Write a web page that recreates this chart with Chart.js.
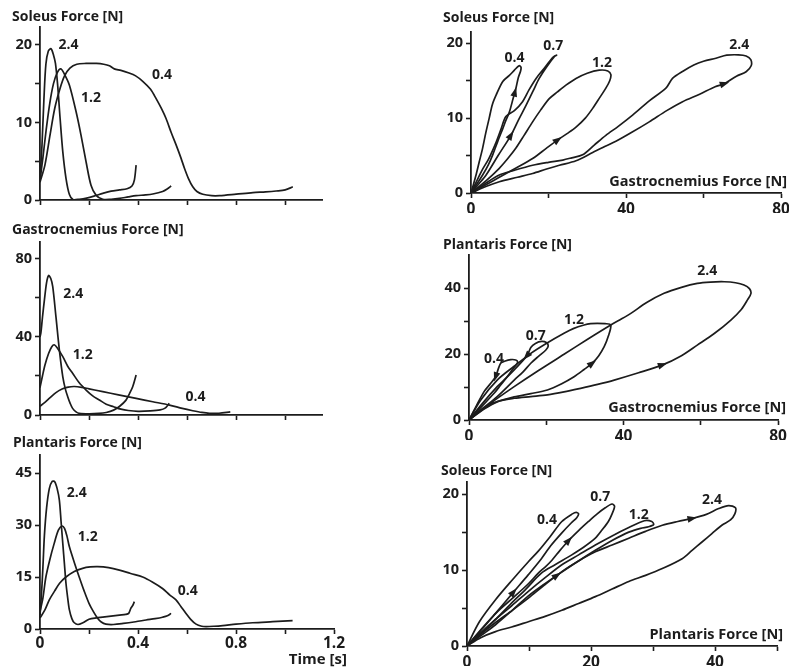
<!DOCTYPE html>
<html>
<head>
<meta charset="utf-8">
<script src="https://cdn.jsdelivr.net/npm/chart.js@4/dist/chart.umd.min.js"></script>
<style>
  html, body { margin: 0; padding: 0; background: #ffffff; }
  #wrap { position: relative; width: 789px; height: 672px; overflow: hidden; }
  #wrap canvas { position: absolute; left: 0; top: 0; }
</style>
</head>
<body>
<div id="wrap"></div>
<script>
// ---- Force–time traces [time s, force N] at three hopping frequencies ----
const soleusT24 = [[0,2.5],[0.008,7],[0.016,13],[0.024,17.5],[0.034,19.2],[0.045,19.5],[0.055,18.7],[0.063,17.6],[0.072,14.8],[0.082,10.5],[0.093,6.2],[0.106,2.8],[0.12,0.7],[0.135,0.05],[0.16,0.1],[0.19,0.25],[0.22,0.5],[0.256,0.86],[0.29,1.15],[0.324,1.3],[0.355,1.45],[0.375,1.8],[0.385,2.6],[0.392,4.5]];
const soleusT12 = [[0,2.5],[0.012,5.5],[0.025,9],[0.04,12.5],[0.055,15],[0.07,16.4],[0.085,16.9],[0.1,16.2],[0.12,14.8],[0.147,11.4],[0.167,8.4],[0.188,4.9],[0.208,1.9],[0.229,0.6],[0.256,0.1],[0.29,0.1],[0.324,0.2],[0.36,0.4],[0.392,0.56],[0.43,0.65],[0.46,0.77],[0.5,1.1],[0.52,1.45],[0.535,1.8]];
const soleusT04 = [[0,2.3],[0.02,4.5],[0.041,8.4],[0.06,11.8],[0.082,14.4],[0.1,16],[0.122,17],[0.15,17.5],[0.188,17.6],[0.23,17.6],[0.26,17.5],[0.283,17.3],[0.303,16.9],[0.33,16.7],[0.36,16.4],[0.39,16],[0.419,15.3],[0.45,14.3],[0.473,13.1],[0.495,11.8],[0.514,10.5],[0.535,8.7],[0.555,7.1],[0.575,5.4],[0.589,4.1],[0.605,2.8],[0.623,1.7],[0.64,1.1],[0.664,0.74],[0.7,0.56],[0.732,0.56],[0.8,0.75],[0.868,0.95],[0.92,1.05],[0.963,1.16],[1.0,1.3],[1.031,1.7]];

const gastroT24 = [[0,40],[0.004,42.5],[0.01,50],[0.018,59],[0.027,68],[0.035,71.5],[0.044,70],[0.052,65.8],[0.065,50.4],[0.079,33.3],[0.093,19.6],[0.104,13],[0.113,9.4],[0.123,6],[0.133,3.4],[0.147,1.6],[0.16,0.85],[0.2,0.6],[0.24,0.8],[0.27,1.3],[0.3,2.5],[0.325,4.5],[0.35,7.5],[0.365,11],[0.378,14.5],[0.392,20.5]];
const gastroT12 = [[0,14],[0.01,20],[0.02,25.5],[0.035,31.5],[0.048,35],[0.058,36],[0.07,34.5],[0.093,29.9],[0.113,25],[0.133,21.4],[0.16,16.5],[0.188,12.8],[0.215,9.8],[0.242,7.7],[0.27,5.5],[0.3,4.2],[0.33,3],[0.36,2.3],[0.4,1.9],[0.45,2.1],[0.49,2.6],[0.51,3.5],[0.527,6]];
const gastroT04 = [[0,4.5],[0.02,6.5],[0.04,8.8],[0.065,11.5],[0.09,13.3],[0.115,14.3],[0.14,14.6],[0.17,14.2],[0.2,13.4],[0.256,12],[0.32,10.3],[0.392,8.5],[0.46,6.8],[0.528,5.1],[0.58,3.4],[0.623,2.2],[0.66,1.3],[0.691,0.85],[0.73,0.9],[0.776,1.6]];

const plantT24 = [[0,4],[0.006,10],[0.012,18],[0.018,27],[0.027,35],[0.038,40.5],[0.05,42.6],[0.06,42.5],[0.07,40.5],[0.079,37.2],[0.086,31],[0.093,24.7],[0.1,18.5],[0.106,13.2],[0.113,9],[0.12,5.5],[0.13,3],[0.14,1.8],[0.155,1.3],[0.175,1.8],[0.2,2.8],[0.23,3.2],[0.256,3.4],[0.29,3.7],[0.324,4],[0.35,4.2],[0.362,4.5],[0.371,6],[0.38,7],[0.385,7.9]];
const plantT12 = [[0,5],[0.012,9],[0.024,15],[0.04,20],[0.058,24.7],[0.075,28.5],[0.09,29.7],[0.1,29],[0.11,26.8],[0.12,23.7],[0.14,19.2],[0.16,15],[0.18,11],[0.2,7.4],[0.218,5],[0.235,3.1],[0.25,2],[0.269,1.4],[0.3,1.3],[0.34,1.6],[0.39,2.1],[0.433,2.6],[0.47,3.0],[0.5,3.4],[0.52,3.8],[0.535,4.5]];
const plantT04 = [[0,3.2],[0.02,5.5],[0.038,8.4],[0.06,11],[0.08,13.2],[0.106,15],[0.14,16.6],[0.174,17.5],[0.205,17.9],[0.235,18],[0.28,17.7],[0.324,17],[0.37,16],[0.419,15],[0.46,13.5],[0.5,11.7],[0.53,9.8],[0.555,8.4],[0.575,6.5],[0.596,4.5],[0.615,2.8],[0.637,1.4],[0.66,0.8],[0.678,0.7],[0.71,0.8],[0.746,1.0],[0.8,1.4],[0.868,1.8],[0.95,2.1],[1.031,2.4]];

// ---- Force–force loops [x force N, y force N] ----
// soleus (y) against gastrocnemius (x)
const solGas04 = [[0,0],[1.5,1.2],[3,2.4],[4.5,3.8],[5.6,5.1],[6.9,6.9],[8.2,8.6],[9.0,9.7],[9.9,10.8],[10.7,12.3],[11.6,14.0],[12.2,15.4],[12.8,16.3],[12.9,16.8],[12.4,17.0],[11.2,16.4],[9.9,15.7],[8.2,14.9],[6.5,13.1],[5.5,11.8],[4.7,10.0],[3.8,8.0],[3.0,6.0],[2.1,4.1],[1.3,2.4],[0.5,0.9],[0,0]];
const solGas07 = [[0,0],[2,1.2],[3.9,2.4],[7,5.0],[10.3,7.7],[12.3,9.8],[14.2,11.7],[16,13.6],[17.6,15.3],[19.6,16.9],[21.5,18.2],[22.1,18.4],[21.6,18.3],[20.9,18.0],[18.8,16.6],[16.8,15.3],[15,13.8],[13.3,12.2],[11.2,11.0],[9,10.2],[7.8,8.6],[6.5,6.8],[4.6,4.6],[2.7,2.9],[0,0]];
const solGas12 = [[0,0],[3.5,1.0],[7.3,2.1],[11.5,3.3],[15.9,4.6],[19.5,6.0],[22.4,7.1],[25,8.0],[27.1,8.8],[29.5,10.0],[31.4,11.3],[33.3,12.8],[34.8,14.0],[35.8,15.0],[36.1,15.8],[35.3,16.3],[33.1,16.4],[30,16.0],[27.1,15.3],[24.5,14.4],[22.3,13.5],[20.2,12.6],[18,11.1],[15.9,9.5],[13.7,7.7],[11.6,6.0],[9.5,4.6],[7.3,3.3],[4,1.7],[0,0]];
const solGas24 = [[0,0],[4,0.9],[7.3,1.5],[12,2.1],[15.9,2.6],[19.5,3.2],[22.8,3.7],[27.1,4.3],[31.4,5.4],[34.5,6.2],[37.4,6.9],[41.5,8.1],[46,9.5],[50.5,11],[54.6,12.2],[59,13.2],[63,14.2],[65.4,14.6],[68.5,15.6],[71,16.2],[72.3,17.0],[72.2,17.8],[71,18.3],[69,18.45],[66,18.4],[63.2,18.0],[60,17.6],[57.5,17.1],[54.8,16.3],[52,15.3],[50.3,14.0],[46,12.3],[41.7,10.4],[38,8.9],[34.8,7.7],[31.8,6.4],[28.8,5.1],[26,4.7],[23.7,4.4],[20,4.1],[15.9,3.7],[11,3.0],[7.3,2.4],[3.5,1.2],[0,0]];

// plantaris (y) against gastrocnemius (x)
const plaGas04 = [[0,0],[3.2,4.0],[6.5,8.1],[8.2,10.6],[9.9,13.1],[11.2,15.2],[12.2,16.7],[12.6,17.6],[12.1,18.2],[10.8,18.3],[9.2,17.8],[8.2,17.2],[7.5,15.2],[6.9,13.1],[5.4,10.8],[3.9,8.6],[2,4.5],[0,0]];
const plaGas07 = [[0,0],[3.5,3.5],[7.3,7.1],[11.7,12.1],[14,14.6],[16,17.2],[18,19.3],[19.9,21.2],[20.5,22.4],[20.1,23.4],[18.8,23.8],[17.2,23.2],[16,22],[15.1,19.6],[13.4,17.3],[11.7,15.2],[9.5,12.6],[7.3,10.1],[3.6,5.2],[0,0]];
const plaGas12 = [[0,0],[4,3.4],[7.3,5.5],[11.7,7.0],[16,8.0],[20.3,9.1],[24,11.0],[27.2,13.1],[29.8,15.3],[31.9,17.2],[33.6,19.5],[35,22.2],[36.1,25.5],[36.7,28.8],[35.2,29.2],[33.2,29.3],[31.5,29.2],[29.8,28.8],[27,27.7],[24.6,26.3],[20,23.2],[16,20.2],[11.6,16.2],[7.3,12.1],[3,6],[0,0]];
const plaGas24 = [[0,0],[3.5,3.2],[7.3,5.6],[11.7,6.6],[16,7.1],[20.3,7.6],[24.6,8.5],[28.9,9.6],[33.3,10.8],[37.6,12.1],[43.9,14.3],[50.1,16.7],[55,19.5],[59.1,22.7],[63.5,26.2],[67.8,30.3],[70.5,33.5],[72.1,36.4],[73,38.4],[72.6,39.8],[71.2,40.9],[69,41.6],[66.1,41.9],[62.5,41.8],[59.1,41.4],[55,40.2],[50.5,38.4],[46,35.6],[41.9,32.3],[39,30.3],[36.7,28.8],[30.6,24.4],[24.6,19.9],[18,15],[11.7,10.1],[5.5,5],[0,0]];

// soleus (y) against plantaris (x)
const solPla04 = [[0,0],[2.3,2.1],[4.6,4.3],[7.5,7.1],[9.9,9.4],[12,11.5],[13.5,13.2],[15.3,14.9],[16.8,16.2],[17.7,16.9],[18,17.4],[17.6,17.6],[17,17.4],[15.3,16.4],[13.4,14.4],[11.5,12.5],[9.9,11.1],[7.3,8.7],[4.6,6.1],[2,3.2],[0,0]];
const solPla07 = [[0,0],[2.5,2.4],[5,4.6],[7.5,6.4],[9.9,8.2],[11.5,9.6],[12.6,10.4],[13.7,11.3],[15,12.6],[16.4,13.9],[18,15.2],[19.6,16.4],[21,17.4],[22.3,18.2],[23.4,18.7],[23.8,18.4],[23.4,17.4],[22.8,16.4],[21.8,15.3],[20.7,14.2],[18.8,13.0],[16.9,12.0],[14.2,10.7],[12,9.6],[9.5,7.5],[7,5.5],[4.6,3.5],[2.3,1.7],[0,0]];
const solPla12 = [[0,0],[2.3,1.4],[4.6,2.8],[7.3,4.7],[9.9,6.6],[12.2,8.0],[14.5,9.3],[17.6,11.0],[20.7,12.6],[23.4,13.9],[26.1,15.0],[28,15.5],[29.3,15.7],[30.1,16.0],[29.8,16.4],[28.6,16.5],[26.1,15.6],[23.4,14.5],[20.7,13.3],[18,12.0],[15.3,10.7],[12.6,9.0],[9.9,7.2],[7.2,5.3],[4.6,3.5],[2.3,1.8],[0,0]];
const solPla24 = [[0,0],[2.3,1.6],[4.6,3.1],[7.3,4.7],[9.9,6.3],[12.6,8.1],[15.3,9.8],[18,11.2],[20.7,12.4],[23.4,13.3],[26.1,14.2],[28.8,15.1],[31.5,15.9],[34,16.4],[36.3,16.8],[38.5,17.3],[40.6,18.1],[42.2,18.5],[43.3,18.2],[43.2,17.4],[42.5,16.6],[41.1,15.9],[39.5,14.8],[37.9,13.7],[36.3,12.6],[34.7,11.5],[31.5,10.2],[28.8,9.3],[26.1,8.5],[23.4,7.5],[20.7,6.5],[18,5.6],[15.3,4.7],[12.6,3.9],[9.9,3.2],[7.2,2.5],[4.6,1.9],[2.2,1.1],[0,0]];

// ---- Axis ticks and labels ----
const timeTicks = [0, 0.2, 0.4, 0.6, 0.8, 1.0, 1.2];
const timeLabels = [0, 0.4, 0.8, 1.2];
const soleusTicks = [0, 5, 10, 15, 20];
const soleusLabels = [0, 10, 20];
const gastroTicks = [0, 20, 40, 60, 80];
const gastroLabels = [0, 40, 80];
const plantTicks = [0, 15, 30, 45];
const plantLabels = [0, 15, 30, 45];
const plantLoopTicks = [0, 10, 20, 30, 40];
const plantLoopLabels = [0, 20, 40];
const plantXTicks = [0, 10, 20, 30, 40, 50];
const plantXLabels = [0, 20, 40];
const freqNames = ['0.4', '0.7', '1.2', '2.4'];

const INK = '#1c1c1c';
const FONT = '"Open Sans", "DejaVu Sans", sans-serif';
const W = 789, H = 672;
const YW = 40, XH = 20;
const TITLE = 14;      // vertical-axis captions above each panel
const XTITLE = 14.5;   // horizontal-axis captions
const CURVE = 14;      // frequency labels beside the curves

// Draws curve labels, direction arrows and the axis captions of one panel.
const decor = {
  id: 'decor',
  afterDatasetsDraw(chart, args, o) {
    const ctx = chart.ctx, xs = chart.scales.x, ys = chart.scales.y;
    ctx.save();
    ctx.fillStyle = INK;
    ctx.font = `bold ${CURVE}px ${FONT}`;
    ctx.textAlign = 'center';
    ctx.textBaseline = 'middle';
    for (const [txt, x, y] of o.labels) {
      ctx.fillText(txt, xs.getPixelForValue(x), ys.getPixelForValue(y));
    }
    for (const [si, ax, ay] of o.arrows) {
      const pts = chart.data.datasets[si].data.map(p => [xs.getPixelForValue(p.x), ys.getPixelForValue(p.y)]);
      const qx = xs.getPixelForValue(ax), qy = ys.getPixelForValue(ay);
      let best = null;
      for (let i = 0; i < pts.length - 1; i++) {
        const [x1, y1] = pts[i], [x2, y2] = pts[i + 1];
        const dx = x2 - x1, dy = y2 - y1, L2 = dx * dx + dy * dy;
        if (!L2) continue;
        let t = ((qx - x1) * dx + (qy - y1) * dy) / L2;
        t = Math.max(0, Math.min(1, t));
        const px = x1 + t * dx, py = y1 + t * dy;
        const d = (px - qx) ** 2 + (py - qy) ** 2;
        if (!best || d < best.d) best = { d, px, py, ang: Math.atan2(dy, dx) };
      }
      ctx.save();
      ctx.translate(best.px, best.py);
      ctx.rotate(best.ang);
      ctx.beginPath();
      ctx.moveTo(5, 0);
      ctx.lineTo(-4.5, -3.4);
      ctx.lineTo(-4.5, 3.4);
      ctx.closePath();
      ctx.fill();
      ctx.restore();
    }
    for (const c of o.captions) {
      ctx.font = `bold ${c.size}px ${FONT}`;
      ctx.textAlign = c.align;
      ctx.textBaseline = 'middle';
      ctx.fillText(c.text, c.x, c.y);
    }
    ctx.restore();
  }
};

function axis(dir, a) {
  return {
    type: 'linear',
    position: dir === 'x' ? 'bottom' : 'left',
    min: a.min,
    max: a.max,
    afterBuildTicks: s => { s.ticks = a.ticks.map(v => ({ value: v })); },
    afterFit: s => {
      if (dir === 'x') s.height = XH; else s.width = YW;
      s.paddingLeft = s.paddingRight = s.paddingTop = s.paddingBottom = 0;
    },
    ticks: {
      autoSkip: false,
      maxRotation: 0,
      minRotation: 0,
      padding: a.pad,
      color: INK,
      font: { family: FONT, weight: 'bold', size: a.size },
      callback: v => (a.labels.includes(v) ? String(v) : '')
    },
    grid: { drawOnChartArea: false, drawTicks: true, tickLength: 5, tickWidth: 1.6, tickColor: INK, color: INK },
    border: { display: true, color: INK, width: 1.8 }
  };
}

function panel(p) {
  const c = document.createElement('canvas');
  c.width = W; c.height = H;
  document.getElementById('wrap').appendChild(c);
  new Chart(c, {
    type: 'scatter',
    data: {
      datasets: p.series.map(s => ({
        data: s.map(([x, y]) => ({ x, y })),
        showLine: true,
        borderColor: INK,
        borderWidth: 1.7,
        pointRadius: 0,
        tension: 0.3,
        fill: false
      }))
    },
    options: {
      responsive: false,
      animation: false,
      devicePixelRatio: 1,
      layout: { padding: { left: p.area.l - YW, top: p.area.t, right: W - p.area.r, bottom: H - p.area.b - XH } },
      plugins: {
        legend: { display: false },
        tooltip: { enabled: false },
        decor: { labels: p.labels, arrows: p.arrows || [], captions: p.captions }
      },
      scales: { x: axis('x', p.x), y: axis('y', p.y) }
    },
    plugins: [decor]
  });
}

const yTick = (min, max, ticks, labels) => ({ min, max, ticks, labels, pad: 3, size: 14.5 });
const xTick = (min, max, ticks, labels, pad) => ({ min, max, ticks, labels, pad, size: 15.5 });

// Left column: force against time
panel({
  area: { l: 40, t: 27, r: 322, b: 200 },
  series: [soleusT24, soleusT12, soleusT04],
  x: xTick(0, 1.15, timeTicks.slice(0, 6), [], 1),
  y: yTick(0, 22.3, soleusTicks, soleusLabels),
  labels: [['2.4', 0.116, 20], ['1.2', 0.208, 13.1], ['0.4', 0.498, 16.1]],
  captions: [{ text: 'Soleus Force [N]', x: 12, y: 17, size: TITLE, align: 'left' }]
});
panel({
  area: { l: 40, t: 242, r: 322, b: 415 },
  series: [gastroT24, gastroT12, gastroT04],
  x: xTick(0, 1.15, timeTicks.slice(0, 6), [], 1),
  y: yTick(0, 88.7, gastroTicks, gastroLabels),
  labels: [['2.4', 0.136, 62], ['1.2', 0.174, 30.8], ['0.4', 0.634, 9.1]],
  captions: [{ text: 'Gastrocnemius Force [N]', x: 12, y: 230, size: TITLE, align: 'left' }]
});
panel({
  area: { l: 40, t: 455, r: 334, b: 629 },
  series: [plantT24, plantT12, plantT04],
  x: xTick(0, 1.2, timeTicks, timeLabels, 0),
  y: yTick(0, 50.2, plantTicks, plantLabels),
  labels: [['2.4', 0.15, 39.1], ['1.2', 0.195, 26.6], ['0.4', 0.603, 11]],
  captions: [
    { text: 'Plantaris Force [N]', x: 13, y: 443, size: TITLE, align: 'left' },
    { text: 'Time [s]', x: 347, y: 660, size: 15, align: 'right' }
  ]
});

// Right column: force against force
panel({
  area: { l: 471, t: 32, r: 781, b: 193 },
  series: [solGas04, solGas07, solGas12, solGas24],
  x: xTick(0, 80, gastroTicks, gastroLabels, 2),
  y: yTick(0, 21.5, soleusTicks, soleusLabels),
  labels: [[freqNames[0], 11.2, 18], [freqNames[1], 21.2, 19.6], [freqNames[2], 33.8, 17.4], [freqNames[3], 69.2, 19.7]],
  arrows: [[0, 11.2, 13.5], [1, 10.3, 7.7], [2, 22.4, 7.1], [3, 65.4, 14.6]],
  captions: [
    { text: 'Soleus Force [N]', x: 443, y: 18, size: TITLE, align: 'left' },
    { text: 'Gastrocnemius Force [N]', x: 787, y: 182, size: XTITLE, align: 'right' }
  ]
});
panel({
  area: { l: 469, t: 255, r: 778, b: 420 },
  series: [plaGas04, plaGas07, plaGas12, plaGas24],
  x: xTick(0, 80, gastroTicks, gastroLabels, 2),
  y: yTick(0, 50, plantLoopTicks, plantLoopLabels),
  labels: [[freqNames[0], 6.5, 18.4], [freqNames[1], 17.3, 25.5], [freqNames[2], 27.2, 30.3], [freqNames[3], 61.7, 45.2]],
  arrows: [[0, 6.9, 13.1], [1, 15.1, 19.2], [2, 31.9, 17.2], [3, 50.1, 16.7]],
  captions: [
    { text: 'Plantaris Force [N]', x: 443, y: 245, size: TITLE, align: 'left' },
    { text: 'Gastrocnemius Force [N]', x: 786, y: 408, size: XTITLE, align: 'right' }
  ]
});
panel({
  area: { l: 467, t: 482, r: 777, b: 646 },
  series: [solPla04, solPla07, solPla12, solPla24],
  x: xTick(0, 50, plantXTicks, plantXLabels, 2),
  y: yTick(0, 21.6, soleusTicks, soleusLabels),
  labels: [[freqNames[0], 12.9, 16.6], [freqNames[1], 21.5, 19.6], [freqNames[2], 27.7, 17.3], [freqNames[3], 39.5, 19.2]],
  arrows: [[0, 7.5, 7.1], [1, 16.4, 13.9], [2, 14.5, 9.3], [3, 36.3, 16.8]],
  captions: [
    { text: 'Soleus Force [N]', x: 441, y: 471, size: TITLE, align: 'left' },
    { text: 'Plantaris Force [N]', x: 783, y: 635, size: XTITLE, align: 'right' }
  ]
});
</script>
</body>
</html>
